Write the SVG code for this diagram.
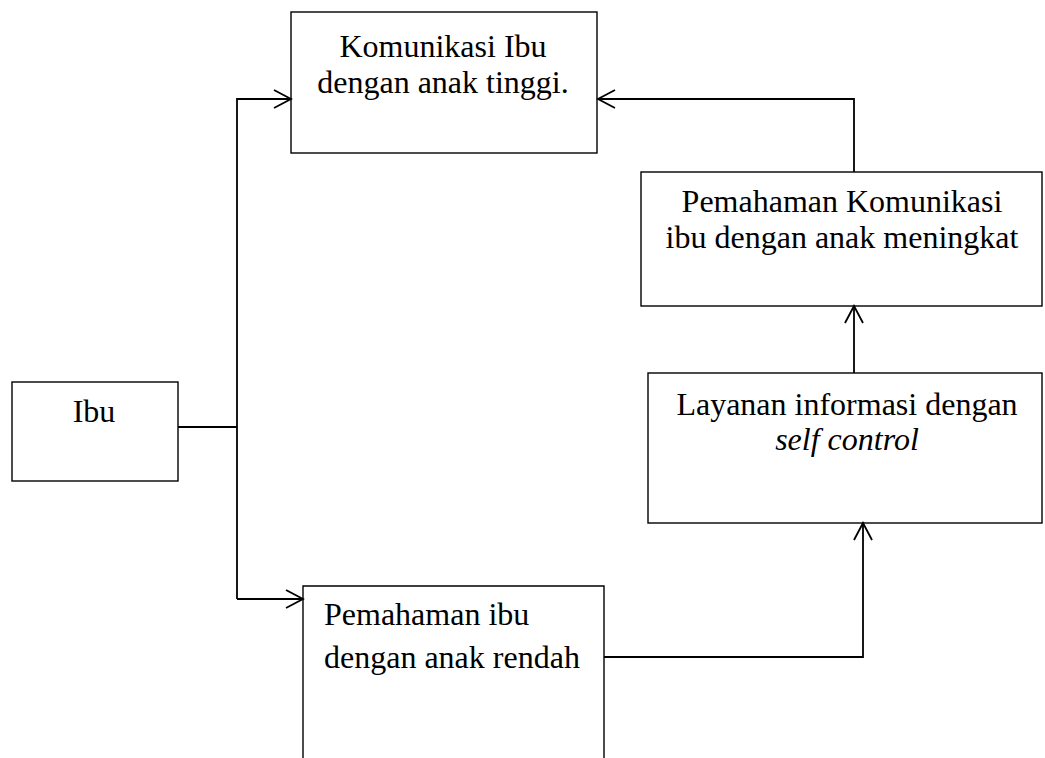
<svg xmlns="http://www.w3.org/2000/svg" width="1045" height="758" viewBox="0 0 1045 758">
<style>
.box{fill:#fff;stroke:#000;stroke-width:1.4}
.t{font-family:"Liberation Serif","Times New Roman",serif;font-size:32px;fill:#000}
.c{text-anchor:middle}
.ln{fill:none;stroke:#000;stroke-width:1.8}
</style>
<defs>
<marker id="ah" markerUnits="userSpaceOnUse" viewBox="-20 -12 22 24" refX="0" refY="0" markerWidth="22" markerHeight="24" orient="auto">
<path d="M-17,-9 L0,0 L-17,9" fill="none" stroke="#000" stroke-width="1.8"/>
</marker>
</defs>
<rect width="1045" height="758" fill="#fff"/>
<g id="n-komunikasi">
<rect class="box" x="291" y="12" width="306" height="141"/>
<text class="t c" x="443" y="57">Komunikasi Ibu</text>
<text class="t c" x="443" y="93">dengan anak tinggi.</text>
</g>
<g id="n-pemahaman-meningkat">
<rect class="box" x="641" y="172" width="401" height="134"/>
<text class="t c" x="842" y="212">Pemahaman Komunikasi</text>
<text class="t c" x="842" y="248">ibu dengan anak meningkat</text>
</g>
<g id="n-layanan">
<rect class="box" x="648" y="373" width="394" height="150"/>
<text class="t c" x="847" y="415">Layanan informasi dengan</text>
<text class="t c" x="847" y="450" font-style="italic">self control</text>
</g>
<g id="n-ibu">
<rect class="box" x="12" y="382" width="166" height="99"/>
<text class="t c" x="94" y="422">Ibu</text>
</g>
<g id="n-pemahaman-rendah">
<path class="box" d="M303,770 L303,586 L604,586 L604,770"/>
<text class="t" x="324" y="625">Pemahaman ibu</text>
<text class="t" x="324" y="668">dengan anak rendah</text>
</g>
<g id="connectors">
<path class="ln" d="M178,427 L237,427"/>
<path class="ln" d="M237,599 L237,99 L291,99" marker-end="url(#ah)"/>
<path class="ln" d="M237,599 L303,599" marker-end="url(#ah)"/>
<path class="ln" d="M854,172 L854,99 L598,99" marker-end="url(#ah)"/>
<path class="ln" d="M854,373 L854,306" marker-end="url(#ah)"/>
<path class="ln" d="M604,657 L863,657 L863,523" marker-end="url(#ah)"/>
</g>
</svg>
